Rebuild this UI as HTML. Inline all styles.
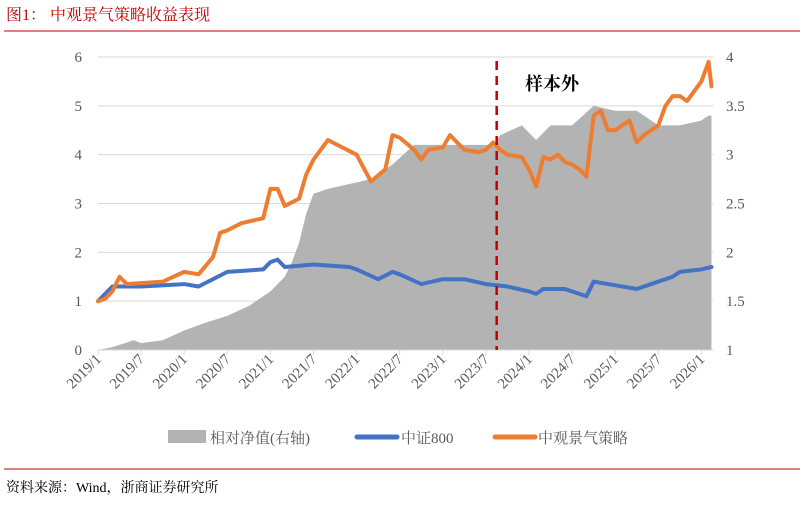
<!DOCTYPE html>
<html><head><meta charset="utf-8"><style>
body{margin:0;background:#fff;width:802px;height:500px;overflow:hidden;font-family:"Liberation Serif","Noto Serif CJK SC",serif}
</style></head><body>
<svg width="802" height="500" xmlns="http://www.w3.org/2000/svg">
<text x="6" y="20" font-size="16" fill="#c00000" font-family="Liberation Serif, Noto Serif CJK SC, serif">图1：  中观景气策略收益表现</text>
<line x1="4" y1="31" x2="800" y2="31" stroke="#c00000" stroke-width="1"/>
<g id="plot"></g>
<text x="525" y="90" font-size="18" font-weight="bold" fill="#000" font-family="Liberation Serif, Noto Serif CJK SC, serif">样本外</text>
<g font-size="15" fill="#595959">
<rect x="168" y="430" width="38" height="13" fill="#b3b3b3"/>
<text x="210" y="443">相对净值(右轴)</text>
<line x1="357" y1="437" x2="397" y2="437" stroke="#4472c4" stroke-width="5" stroke-linecap="round"/>
<text x="401" y="443">中证800</text>
<line x1="495" y1="437" x2="535" y2="437" stroke="#ed7d31" stroke-width="5" stroke-linecap="round"/>
<text x="538" y="443">中观景气策略</text>
</g>
<line x1="4" y1="469" x2="800" y2="469" stroke="#c00000" stroke-width="1"/>
<text x="6" y="492" font-size="14" fill="#000">资料来源：Wind，浙商证券研究所</text>
</svg>
<script>
const grayMonths=[0,2,5,6,9,12,15,18,21,24,26,27,28,29,30,32,35,38,41,44,47,50,55,56,59,61,63,66,69,72,75,78,81,84,85];
const grayVals=[1.0,1.03,1.1,1.07,1.1,1.2,1.28,1.35,1.45,1.6,1.75,1.9,2.1,2.4,2.6,2.65,2.7,2.75,2.9,3.1,3.1,3.1,3.1,3.2,3.3,3.15,3.3,3.3,3.5,3.45,3.45,3.3,3.3,3.35,3.4];
const orangeMonths=[0,1,2,3,4,6,9,12,14,16,17,18,20,23,24,25,26,28,29,30,32,34,36,38,40,41,42,44,45,46,48,49,51,53,54,55,56,57,59,60,61,62,63,64,65,66,67,68,69,70,71,72,73,74,75,76,78,79,80,81,82,83,84,85,85.4];
const orangeVals=[1.0,1.05,1.2,1.5,1.35,1.37,1.4,1.6,1.55,1.9,2.4,2.45,2.6,2.7,3.3,3.3,2.95,3.1,3.6,3.9,4.3,4.15,4.0,3.45,3.7,4.4,4.35,4.1,3.9,4.1,4.15,4.4,4.1,4.05,4.1,4.25,4.1,4.0,3.95,3.7,3.35,3.95,3.9,4.0,3.85,3.8,3.7,3.55,4.8,4.9,4.5,4.5,4.6,4.7,4.25,4.4,4.6,5.0,5.2,5.2,5.1,5.3,5.5,5.9,5.4];
const blueMonths=[0,2,6,12,14,18,23,24,25,26,30,35,36,39,41,42,45,48,51,54,57,60,61,62,65,68,69,71,75,77,80,81,84,85.4];
const blueVals=[1.0,1.3,1.3,1.35,1.3,1.6,1.65,1.8,1.85,1.7,1.75,1.7,1.65,1.45,1.6,1.55,1.35,1.45,1.45,1.35,1.3,1.2,1.15,1.25,1.25,1.1,1.4,1.35,1.25,1.35,1.5,1.6,1.65,1.7];
const leftTicks=[0,1,2,3,4,5,6];
const rightTicks=["1","1.5","2","2.5","3","3.5","4"];
const xLabels=["2019/1","2019/7","2020/1","2020/7","2021/1","2021/7","2022/1","2022/7","2023/1","2023/7","2024/1","2024/7","2025/1","2025/7","2026/1"];
const splitMonth=55.5;

const NS="http://www.w3.org/2000/svg";
const X0=98,XPM=43.1/6,Y0=350,YU=48.83;
const xs=m=>X0+XPM*m;
const yl=v=>Y0-YU*v;
const yr=r=>Y0-2*YU*(r-1);
const g=document.getElementById('plot');
function mk(t,a){const e=document.createElementNS(NS,t);for(const k in a)e.setAttribute(k,a[k]);g.appendChild(e);return e;}
const XE=xs(85.4);
leftTicks.forEach((v,i)=>{
 const gl=mk('line',{x1:X0,x2:XE+2,y1:yl(v),y2:yl(v),stroke:'#d9d9d9','stroke-width':1});
 
 
 const t=mk('text',{x:82,y:yl(v)+5,'font-size':15,fill:'#595959','text-anchor':'end'});t.textContent=v;
 
 
 const r=mk('text',{x:726,y:yl(v)+5,'font-size':15,fill:'#595959'});r.textContent=rightTicks[i];
 
 
});
let d='M'+xs(grayMonths[0])+','+Y0;
grayMonths.forEach((m,i)=>{d+=' L'+xs(m)+','+yr(grayVals[i]);});
d+=' L'+XE+','+yr(grayVals[grayVals.length-1])+' L'+XE+','+Y0+' Z';
const area=mk('path',{d:d,fill:'#b3b3b3'});


const ax=mk('line',{x1:X0,x2:XE+2,y1:Y0,y2:Y0,stroke:'#d9d9d9','stroke-width':1});


xLabels.forEach((l,i)=>{
 const x=xs(i*6);
 const tk=mk('line',{x1:x,x2:x,y1:Y0,y2:Y0+5,stroke:'#d9d9d9'});
 
 
 const t=mk('text',{x:x+4,y:Y0+10,'font-size':15,fill:'#595959','text-anchor':'end',transform:`rotate(-45 ${x+4} ${Y0+10})`});
 t.textContent=l;
 
 
});
function line(ms,vs,col,name){
 const p=mk('polyline',{points:ms.map((m,i)=>xs(m)+','+yl(vs[i])).join(' '),fill:'none',stroke:col,'stroke-width':4,'stroke-linejoin':'round','stroke-linecap':'round'});
 
 
}
line(blueMonths,blueVals,'#4472c4','csi800-line');
line(orangeMonths,orangeVals,'#ed7d31','strategy-line');
const sp=mk('line',{x1:xs(splitMonth),x2:xs(splitMonth),y1:yl(6)+4,y2:Y0,stroke:'#c00000','stroke-width':2.5,'stroke-dasharray':'9,6'});


</script>
</body></html>
